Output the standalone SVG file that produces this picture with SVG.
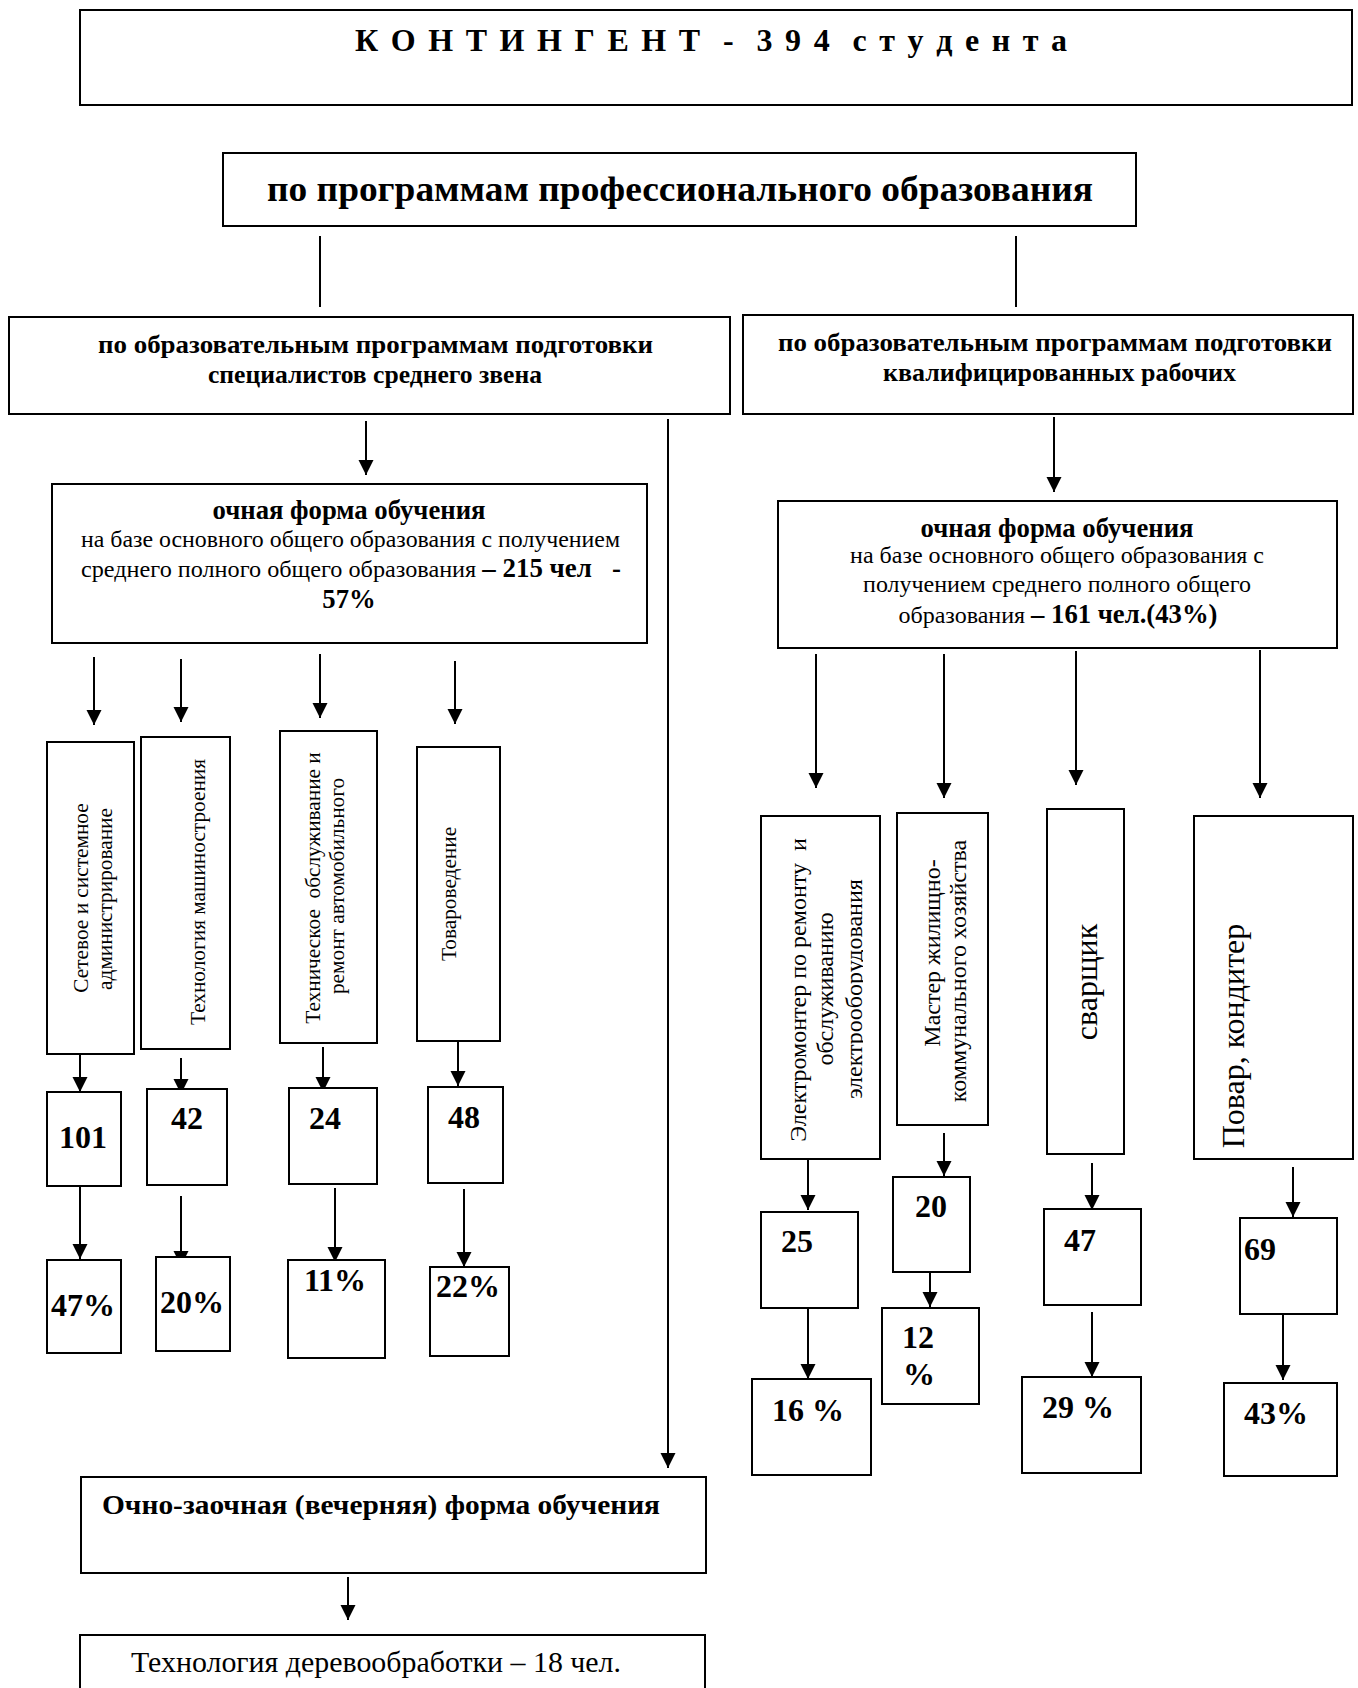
<svg xmlns="http://www.w3.org/2000/svg" width="1358" height="1688" viewBox="0 0 1358 1688">
<defs>
<style>
.box{fill:#fff;stroke:#000;stroke-width:2}
.ln{stroke:#000;stroke-width:2;fill:none}
.arr{marker-end:url(#ah)}
text{font-family:"Liberation Serif","Times New Roman",serif;fill:#000}
.b{font-weight:bold}
.r16{font-size:21.3px}
.r18{font-size:24px}
.r24{font-size:32px}
.num{font-weight:bold;font-size:32px}
</style>
<marker id="ah" markerUnits="userSpaceOnUse" markerWidth="16" markerHeight="16" refX="15" refY="7.5" orient="auto">
<path d="M0,0 L15,7.5 L0,15 Z" fill="#000"/>
</marker>
<clipPath id="clipR1"><rect x="761" y="816" width="102" height="343"/></clipPath>
</defs>

<g id="connectors">
<line class="ln" x1="320" y1="236" x2="320" y2="307"/>
<line class="ln" x1="1016" y1="236" x2="1016" y2="307"/>
<line class="ln arr" x1="366" y1="421" x2="366" y2="475"/>
<line class="ln arr" x1="668" y1="419" x2="668" y2="1468"/>
<line class="ln arr" x1="1054" y1="417" x2="1054" y2="492"/>
<line class="ln arr" x1="94" y1="657" x2="94" y2="725"/>
<line class="ln arr" x1="181" y1="659" x2="181" y2="722"/>
<line class="ln arr" x1="320" y1="654" x2="320" y2="718"/>
<line class="ln arr" x1="455" y1="661" x2="455" y2="724"/>
<line class="ln arr" x1="80" y1="1054" x2="80" y2="1092"/>
<line class="ln arr" x1="181" y1="1058" x2="181" y2="1094"/>
<line class="ln arr" x1="323" y1="1047" x2="323" y2="1092"/>
<line class="ln arr" x1="458" y1="1041" x2="458" y2="1086"/>
<line class="ln arr" x1="80" y1="1186" x2="80" y2="1259"/>
<line class="ln arr" x1="181" y1="1196" x2="181" y2="1266"/>
<line class="ln arr" x1="335" y1="1188" x2="335" y2="1262"/>
<line class="ln arr" x1="464" y1="1189" x2="464" y2="1267"/>
<line class="ln arr" x1="816" y1="654" x2="816" y2="788"/>
<line class="ln arr" x1="944" y1="654" x2="944" y2="798"/>
<line class="ln arr" x1="1076" y1="651" x2="1076" y2="785"/>
<line class="ln arr" x1="1260" y1="650" x2="1260" y2="798"/>
<line class="ln arr" x1="808" y1="1159" x2="808" y2="1210"/>
<line class="ln arr" x1="944" y1="1133" x2="944" y2="1176"/>
<line class="ln arr" x1="930" y1="1268" x2="930" y2="1307"/>
<line class="ln arr" x1="1092" y1="1163" x2="1092" y2="1210"/>
<line class="ln arr" x1="1092" y1="1312" x2="1092" y2="1377"/>
<line class="ln arr" x1="808" y1="1308" x2="808" y2="1379"/>
<line class="ln arr" x1="1293" y1="1167" x2="1293" y2="1217"/>
<line class="ln arr" x1="1283" y1="1309" x2="1283" y2="1380"/>
<line class="ln arr" x1="348" y1="1577" x2="348" y2="1620"/>
</g>

<g id="n-kontingent">
<rect class="box" x="80" y="10" width="1272" height="95"/>
<text class="b" x="355" y="51" font-size="32" textLength="712" lengthAdjust="spacing" style="white-space:pre">К О Н Т И Н Г Е Н Т  -  3 9 4  с т у д е н т а</text>
</g>

<g id="n-prof">
<rect class="box" x="223" y="153" width="913" height="73"/>
<text class="b" x="267" y="201" font-size="36" textLength="826" lengthAdjust="spacingAndGlyphs">по программам профессионального образования</text>
</g>

<g id="n-ssz">
<rect class="box" x="9" y="317" width="721" height="97"/>
<text class="b" x="98" y="353" font-size="25.5" textLength="555" lengthAdjust="spacingAndGlyphs">по образовательным программам подготовки</text>
<text class="b" x="208" y="383" font-size="25.5" textLength="334" lengthAdjust="spacingAndGlyphs">специалистов среднего звена</text>
</g>

<g id="n-kr">
<rect class="box" x="743" y="315" width="610" height="99"/>
<text class="b" x="778" y="351" font-size="25.5" textLength="554" lengthAdjust="spacingAndGlyphs">по образовательным программам подготовки</text>
<text class="b" x="883" y="381" font-size="25.5" textLength="353" lengthAdjust="spacingAndGlyphs">квалифицированных рабочих</text>
</g>

<g id="n-ochL">
<rect class="box" x="52" y="484" width="595" height="159"/>
<text class="b" x="349" y="519" font-size="26.7" text-anchor="middle">очная форма обучения</text>
<text class="r18" x="81" y="547" textLength="539" lengthAdjust="spacingAndGlyphs">на базе основного общего образования с получением</text>
<text class="r18" x="81" y="577" textLength="540" lengthAdjust="spacingAndGlyphs" xml:space="preserve">среднего полного общего образования <tspan class="b" font-size="26.7">– 215 чел   -</tspan></text>
<text class="b" x="349" y="608" font-size="26.7" text-anchor="middle">57%</text>
</g>

<g id="n-v1">
<rect class="box" x="47" y="742" width="87" height="312"/>
<text class="r16" transform="translate(88,898) rotate(-90)" text-anchor="middle">Сетевое и системное</text>
<text class="r16" transform="translate(112,899) rotate(-90)" text-anchor="middle">администрирование</text>
</g>
<g id="n-v2">
<rect class="box" x="141" y="737" width="89" height="312"/>
<text class="r16" transform="translate(205,892) rotate(-90)" text-anchor="middle">Технология машиностроения</text>
</g>
<g id="n-v3">
<rect class="box" x="280" y="731" width="97" height="312"/>
<text class="r16" transform="translate(320,888) rotate(-90)" text-anchor="middle" xml:space="preserve">Техническое  обслуживание и</text>
<text class="r16" transform="translate(344,886) rotate(-90)" text-anchor="middle">ремонт автомобильного</text>
</g>
<g id="n-v4">
<rect class="box" x="417" y="747" width="83" height="294"/>
<text class="r16" transform="translate(456,894) rotate(-90)" text-anchor="middle">Товароведение</text>
</g>

<g id="n-101"><rect class="box" x="47" y="1092" width="74" height="94"/><text class="num" x="83" y="1148" text-anchor="middle">101</text></g>
<g id="n-42"><rect class="box" x="147" y="1089" width="80" height="96"/><text class="num" x="187" y="1129" text-anchor="middle">42</text></g>
<g id="n-24"><rect class="box" x="289" y="1088" width="88" height="96"/><text class="num" x="325" y="1129" text-anchor="middle">24</text></g>
<g id="n-48"><rect class="box" x="428" y="1087" width="75" height="96"/><text class="num" x="464" y="1128" text-anchor="middle">48</text></g>
<g id="n-47p"><rect class="box" x="47" y="1260" width="74" height="93"/><text class="num" x="83" y="1316" text-anchor="middle">47%</text></g>
<g id="n-20p"><rect class="box" x="156" y="1257" width="74" height="94"/><text class="num" x="192" y="1313" text-anchor="middle">20%</text></g>
<g id="n-11p"><rect class="box" x="288" y="1260" width="97" height="98"/><text class="num" x="335" y="1291" text-anchor="middle">11%</text></g>
<g id="n-22p"><rect class="box" x="430" y="1267" width="79" height="89"/><text class="num" x="468" y="1297" text-anchor="middle">22%</text></g>

<g id="n-ochR">
<rect class="box" x="778" y="501" width="559" height="147"/>
<text class="b" x="1057" y="537" font-size="26.7" text-anchor="middle">очная форма обучения</text>
<text class="r18" x="1057" y="563" text-anchor="middle">на базе основного общего образования с</text>
<text class="r18" x="1057" y="592" text-anchor="middle">получением среднего полного общего</text>
<text class="r18" x="1058" y="623" text-anchor="middle">образования <tspan class="b" font-size="26.7">– 161 чел.(43%)</tspan></text>
</g>

<g id="n-r1">
<rect class="box" x="761" y="816" width="119" height="343"/>
<text class="r18" transform="translate(806,990) rotate(-90)" text-anchor="middle" xml:space="preserve">Электромонтер по ремонту  и</text>
<text class="r18" transform="translate(833,989) rotate(-90)" text-anchor="middle">обслуживанию</text>
<g clip-path="url(#clipR1)"><text class="r18" transform="translate(862,989) rotate(-90)" text-anchor="middle">электрооборудования</text></g>
</g>
<g id="n-r2">
<rect class="box" x="897" y="813" width="91" height="312"/>
<text class="r18" transform="translate(940,953) rotate(-90)" text-anchor="middle">Мастер жилищно-</text>
<text class="r18" transform="translate(966,971) rotate(-90)" text-anchor="middle">коммунального хозяйства</text>
</g>
<g id="n-r3">
<rect class="box" x="1047" y="809" width="77" height="345"/>
<text class="r24" transform="translate(1097,982) rotate(-90)" text-anchor="middle">сварщик</text>
</g>
<g id="n-r4">
<rect class="box" x="1194" y="816" width="159" height="343"/>
<text class="r24" transform="translate(1244,1036) rotate(-90)" text-anchor="middle">Повар, кондитер</text>
</g>

<g id="n-25"><rect class="box" x="761" y="1212" width="97" height="96"/><text class="num" x="797" y="1252" text-anchor="middle">25</text></g>
<g id="n-20"><rect class="box" x="893" y="1177" width="77" height="95"/><text class="num" x="931" y="1217" text-anchor="middle">20</text></g>
<g id="n-12p"><rect class="box" x="882" y="1308" width="97" height="96"/><text class="num" x="918" y="1348" text-anchor="middle">12</text><text class="num" x="919" y="1385" text-anchor="middle">%</text></g>
<g id="n-47"><rect class="box" x="1044" y="1209" width="97" height="96"/><text class="num" x="1080" y="1251" text-anchor="middle">47</text></g>
<g id="n-29p"><rect class="box" x="1022" y="1377" width="119" height="96"/><text class="num" x="1078" y="1418" text-anchor="middle">29 %</text></g>
<g id="n-16p"><rect class="box" x="752" y="1379" width="119" height="96"/><text class="num" x="808" y="1421" text-anchor="middle">16 %</text></g>
<g id="n-69"><rect class="box" x="1240" y="1218" width="97" height="96"/><text class="num" x="1260" y="1260" text-anchor="middle">69</text></g>
<g id="n-43p"><rect class="box" x="1224" y="1383" width="113" height="93"/><text class="num" x="1276" y="1424" text-anchor="middle">43%</text></g>

<g id="n-ochzaoch">
<rect class="box" x="81" y="1477" width="625" height="96"/>
<text class="b" x="102" y="1514" font-size="27.5" textLength="558" lengthAdjust="spacingAndGlyphs">Очно-заочная (вечерняя) форма обучения</text>
</g>
<g id="n-derevo">
<rect class="box" x="80" y="1635" width="625" height="80"/>
<text class="r24" x="131" y="1672" font-size="30" style="font-size:30px" textLength="490" lengthAdjust="spacingAndGlyphs">Технология деревообработки – 18 чел.</text>
</g>
</svg>
